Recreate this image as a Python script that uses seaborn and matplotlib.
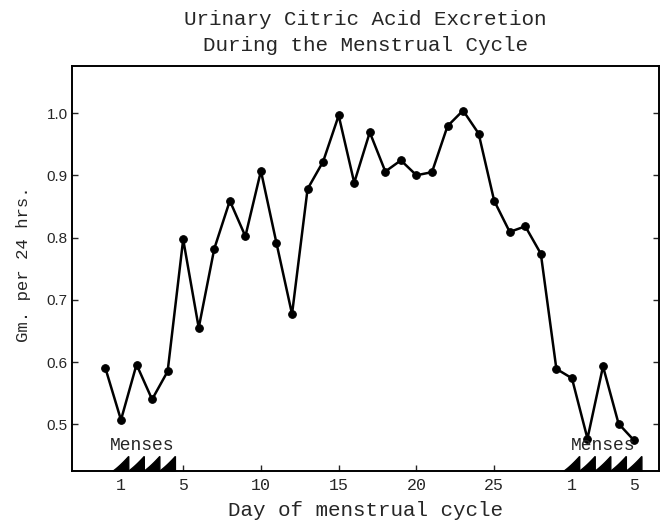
import numpy as np
import matplotlib
matplotlib.use("Agg")
import matplotlib.pyplot as plt
import matplotlib.transforms as mtransforms
import pandas as pd
import seaborn as sns

# Day positions along a continuous axis: 0 is the last day of the preceding
# cycle, 1-29 the studied cycle, 30-34 days 1-5 of the following cycle.
day_position = [0, 1, 2, 3, 4, 5, 6, 7, 8, 9, 10, 11, 12, 13, 14, 15, 16, 17,
                18, 19, 20, 21, 22, 23, 24, 25, 26, 27, 28, 29, 30, 31, 32, 33, 34]
citric_acid = [0.590, 0.507, 0.596, 0.540, 0.585, 0.797, 0.655, 0.782, 0.859,
               0.802, 0.907, 0.791, 0.677, 0.878, 0.922, 0.996, 0.888, 0.969,
               0.906, 0.924, 0.900, 0.905, 0.979, 1.004, 0.967, 0.859, 0.809,
               0.818, 0.774, 0.589, 0.574, 0.477, 0.593, 0.501, 0.474]

x_tick_positions = [1, 5, 10, 15, 20, 25, 30, 34]
x_tick_labels = ["1", "5", "10", "15", "20", "25", "1", "5"]
y_ticks = [0.5, 0.6, 0.7, 0.8, 0.9, 1.0]
y_tick_labels = ["0.5", "0.6", "0.7", "0.8", "0.9", "1.0"]

menses_days = [1, 2, 3, 4, 30, 31, 32, 33, 34]
menses_label_positions = [2.35, 32]

df = pd.DataFrame({"day": day_position, "citric": citric_acid})

sns.set_style("ticks")
plt.rcParams["font.family"] = ["Liberation Mono", "DejaVu Sans Mono"]

fig = plt.figure(figsize=(6.63, 5.26), dpi=100)
ax = fig.add_axes([72 / 663, (526 - 471) / 526, (659 - 72) / 663, (471 - 66) / 526])

sns.lineplot(data=df, x="day", y="citric", ax=ax, color="black", linewidth=1.8,
             marker="o", markersize=5.5, markeredgecolor="black",
             markerfacecolor="black", zorder=3)

ax.set_xlim(-2.15, 35.6)
ax.set_ylim(0.425, 1.0755)

for side in ["top", "right", "left", "bottom"]:
    ax.spines[side].set_visible(True)
    ax.spines[side].set_linewidth(1.4)
    ax.spines[side].set_color("black")

ax.set_xticks(x_tick_positions)
ax.set_xticklabels(x_tick_labels, fontsize=12)
ax.set_yticks(y_ticks)
ax.set_yticklabels(y_tick_labels, fontsize=11,
                   family=["Liberation Sans Narrow", "Liberation Sans"])
ax.tick_params(axis="x", direction="in", length=4, width=1.0, pad=5,
               top=False)
ax.tick_params(axis="y", direction="in", length=4, width=1.0, pad=3,
               right=True)

# Menses markers: saw-tooth fins resting on the baseline
trans = mtransforms.blended_transform_factory(ax.transData, ax.transAxes)
fin_h = 0.036
t = np.linspace(0, 1, 12)
for d in menses_days:
    left, right = d - 0.5, d + 0.5
    # slightly concave hypotenuse from the peak down to the left corner
    cx, cy = d - 0.05, fin_h * 0.35
    hx = (1 - t) ** 2 * right + 2 * (1 - t) * t * cx + t ** 2 * left
    hy = (1 - t) ** 2 * fin_h + 2 * (1 - t) * t * cy + t ** 2 * 0.0
    xs = np.concatenate([[right, right], hx])
    ys = np.concatenate([[0.0, fin_h], hy])
    ax.fill(xs, ys, color="black", transform=trans, zorder=4, clip_on=False)

for pos in menses_label_positions:
    ax.text(pos, 0.064, "Menses", transform=trans, ha="center", va="center",
            fontsize=13)

ax.set_title("Urinary Citric Acid Excretion\nDuring the Menstrual Cycle",
             fontsize=15, linespacing=1.45, pad=11)
ax.set_xlabel("Day of menstrual cycle", fontsize=15, labelpad=6)
ax.set_ylabel("Gm. per 24 hrs.", fontsize=12.5)
ax.yaxis.set_label_coords(-0.07, 0.51)

fig.savefig("out.png", dpi=100, facecolor="white")
